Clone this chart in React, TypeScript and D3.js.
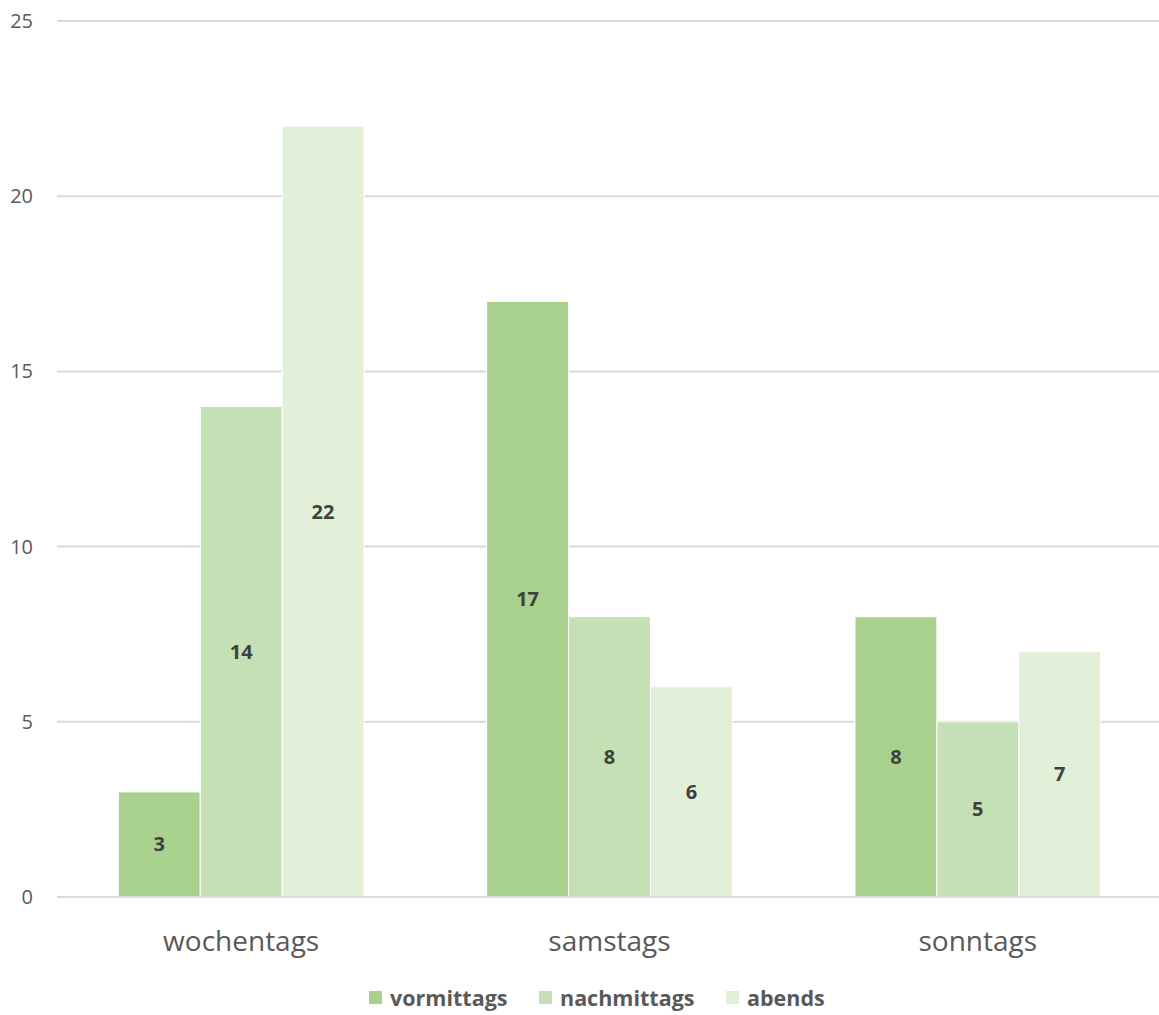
import * as d3 from 'd3';

const categories = ['wochentags', 'samstags', 'sonntags'];
const seriesNames = ['vormittags', 'nachmittags', 'abends'];
const vormittags = [3, 17, 8];
const nachmittags = [14, 8, 5];
const abends = [22, 6, 7];
const yTicks = [0, 5, 10, 15, 20, 25];
const colors = ['#A9D18E', '#C5E0B4', '#E2F0D9'];

const WIDTH = 1159;
const HEIGHT = 1015;
const MARGIN = { top: 21, right: -3, bottom: 118, left: 57 };
const FONT = '"Open Sans", Lato, sans-serif';

export default function App() {
  const boundsWidth = WIDTH - MARGIN.left - MARGIN.right;
  const boundsHeight = HEIGHT - MARGIN.top - MARGIN.bottom;
  const values = [vormittags, nachmittags, abends];

  const xScale = d3.scaleBand().domain(categories).range([0, boundsWidth]).paddingInner(0.333).paddingOuter(0.1665);
  const inner = d3.scaleBand().domain(seriesNames).range([0, xScale.bandwidth()]);
  const yScale = d3.scaleLinear().domain([0, 25]).range([boundsHeight, 0]);

  const legendX = [369, 539, 726];

  return (
    <svg width={WIDTH} height={HEIGHT} style={{ position: 'absolute', left: 0, top: 0, background: '#fff' }} fontFamily={FONT}>
      <g transform={`translate(${MARGIN.left},${MARGIN.top})`}>
        {yTicks.map((t) => (
          <g key={t}>
            <line x1={0} x2={WIDTH - MARGIN.left} y1={yScale(t)} y2={yScale(t)} stroke="#d9d9d9" strokeWidth={2} />
            <text x={-24} y={yScale(t)} dy="0.35em" textAnchor="end" fontSize={20} fill="#595959">{t}</text>
          </g>
        ))}
        {categories.map((c, ci) => (
          <g key={c} transform={`translate(${xScale(c)},0)`}>
            {seriesNames.map((s, si) => {
              const v = values[si][ci];
              const x = inner(s) ?? 0;
              const y = yScale(v);
              return (
                <g key={s}>
                  <rect x={x} y={y} width={inner.bandwidth()} height={boundsHeight - y} fill={colors[si]} stroke="#fff" strokeWidth={1} />
                  <text x={x + inner.bandwidth() / 2} y={(y + boundsHeight) / 2} dy="0.35em" textAnchor="middle" fontSize={20} fontWeight="bold" fill="#404040">{v}</text>
                </g>
              );
            })}
            <text x={xScale.bandwidth() / 2} y={boundsHeight + 54} textAnchor="middle" fontSize={28} fill="#595959">{c}</text>
          </g>
        ))}
        <line x1={0} x2={WIDTH - MARGIN.left} y1={boundsHeight} y2={boundsHeight} stroke="#d9d9d9" strokeWidth={2} />
      </g>
      {seriesNames.map((s, i) => (
        <g key={s} transform={`translate(${legendX[i]},991)`}>
          <rect x={0} y={0} width={13} height={13} fill={colors[i]} />
          <text x={21} y={7} dy="0.35em" fontSize={21.5} fontWeight="bold" fill="#595959">{s}</text>
        </g>
      ))}
    </svg>
  );
}
